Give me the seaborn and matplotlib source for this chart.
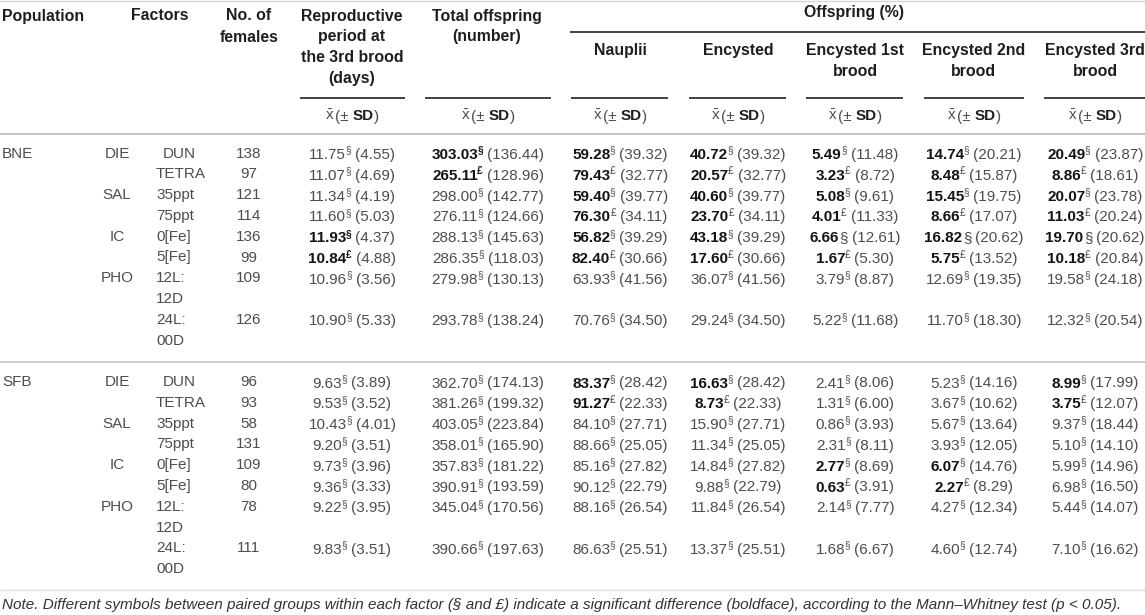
import matplotlib
matplotlib.use("Agg")
import matplotlib.pyplot as plt
import seaborn as sns

# ---------------- data ----------------
populations = ["BNE", "SFB"]
n_females = [138, 97, 121, 114, 136, 99, 109, 126,
             96, 93, 58, 131, 109, 80, 78, 111]
factor_names = ["DIE", "SAL", "IC", "PHO"]
level_lines = [["DUN"], ["TETRA"], ["35ppt"], ["75ppt"], ["0[Fe]"], ["5[Fe]"],
               ["12L:", "12D"], ["24L:", "00D"]]

repro_mean = [11.75, 11.07, 11.34, 11.60, 11.93, 10.84, 10.96, 10.90,
              9.63, 9.53, 10.43, 9.20, 9.73, 9.36, 9.22, 9.83]
repro_sd = [4.55, 4.69, 4.19, 5.03, 4.37, 4.88, 3.56, 5.33,
            3.89, 3.52, 4.01, 3.51, 3.96, 3.33, 3.95, 3.51]
repro_sig = "§§§§§£§§" + "§§§§§§§§"
repro_bold = "00001100" + "00000000"

total_mean = [303.03, 265.11, 298.00, 276.11, 288.13, 286.35, 279.98, 293.78,
              362.70, 381.26, 403.05, 358.01, 357.83, 390.91, 345.04, 390.66]
total_sd = [136.44, 128.96, 142.77, 124.66, 145.63, 118.03, 130.13, 138.24,
            174.13, 199.32, 223.84, 165.90, 181.22, 193.59, 170.56, 197.63]
total_sig = "§£§§§§§§" + "§§§§§§§§"
total_bold = "11000000" + "00000000"

naup_mean = [59.28, 79.43, 59.40, 76.30, 56.82, 82.40, 63.93, 70.76,
             83.37, 91.27, 84.10, 88.66, 85.16, 90.12, 88.16, 86.63]
naup_sd = [39.32, 32.77, 39.77, 34.11, 39.29, 30.66, 41.56, 34.50,
           28.42, 22.33, 27.71, 25.05, 27.82, 22.79, 26.54, 25.51]
naup_sig = "§£§£§£§§" + "§£§§§§§§"
naup_bold = "11111100" + "11000000"

enc_mean = [40.72, 20.57, 40.60, 23.70, 43.18, 17.60, 36.07, 29.24,
            16.63, 8.73, 15.90, 11.34, 14.84, 9.88, 11.84, 13.37]
enc_sd = [39.32, 32.77, 39.77, 34.11, 39.29, 30.66, 41.56, 34.50,
          28.42, 22.33, 27.71, 25.05, 27.82, 22.79, 26.54, 25.51]
enc_sig = "§£§£§£§§" + "§£§§§§§§"
enc_bold = "11111100" + "11000000"

enc1_mean = [5.49, 3.23, 5.08, 4.01, 6.66, 1.67, 3.79, 5.22,
             2.41, 1.31, 0.86, 2.31, 2.77, 0.63, 2.14, 1.68]
enc1_sd = [11.48, 8.72, 9.61, 11.33, 12.61, 5.30, 8.87, 11.68,
           8.06, 6.00, 3.93, 8.11, 8.69, 3.91, 7.77, 6.67]
enc1_sig = "§£§£§£§§" + "§§§§§£§§"
enc1_bold = "11111100" + "00001100"

enc2_mean = [14.74, 8.48, 15.45, 8.66, 16.82, 5.75, 12.69, 11.70,
             5.23, 3.67, 5.67, 3.93, 6.07, 2.27, 4.27, 4.60]
enc2_sd = [20.21, 15.87, 19.75, 17.07, 20.62, 13.52, 19.35, 18.30,
           14.16, 10.62, 13.64, 12.05, 14.76, 8.29, 12.34, 12.74]
enc2_sig = "§£§£§£§§" + "§§§§§£§§"
enc2_bold = "11111100" + "00001100"

enc3_mean = [20.49, 8.86, 20.07, 11.03, 19.70, 10.18, 19.58, 12.32,
             8.99, 3.75, 9.37, 5.10, 5.99, 6.98, 5.44, 7.10]
enc3_sd = [23.87, 18.61, 23.78, 20.24, 20.62, 20.84, 24.18, 20.54,
           17.99, 12.07, 18.44, 14.10, 14.96, 16.50, 14.07, 16.62]
enc3_sig = "§£§£§£§§" + "§£§§§§§§"
enc3_bold = "11111100" + "11000000"

note_text = ("Note. Different symbols between paired groups within each factor (§ and £) "
             "indicate a significant difference (boldface), according to the "
             "Mann\u2013Whitney test (p < 0.05).")

# ---------------- style ----------------
sns.set_theme(style="white")
plt.rcParams['font.family'] = ['Liberation Sans', 'DejaVu Sans']
plt.rcParams['mathtext.fontset'] = 'custom'
plt.rcParams['mathtext.rm'] = 'Liberation Sans'
plt.rcParams['mathtext.bf'] = 'Liberation Sans:bold'

FS = 11.0
HFS = 11.4
SUP = 7.3
C_TXT = "#4d4d4d"
C_BOLD = "#141414"
C_HEAD = "#1e1e1e"

W, H = 1145, 615
fig = plt.figure(figsize=(W / 100, H / 100), dpi=100)
ax = fig.add_axes([0, 0, 1, 1])
ax.set_xlim(0, W)
ax.set_ylim(H, 0)
ax.axis('off')
renderer = fig.canvas.get_renderer()


def run(xc, yc, pieces, ha='center'):
    """pieces: (text, weight, size, color, dy, gap_before)"""
    base = yc + 5.5
    objs = []
    total = 0
    for text, wt, sz, col, dy, gap in pieces:
        t = ax.text(0, base + dy, text, fontsize=sz, fontweight=wt, color=col,
                    va='baseline', ha='left')
        w = t.get_window_extent(renderer).width
        objs.append((t, w, gap))
        total += w + gap
    x = xc - total / 2 if ha == 'center' else xc
    for t, w, gap in objs:
        x += gap
        t.set_x(x)
        x += w


# ---------------- header ----------------
HL = [16, 37, 58, 79]
hkw = dict(fontsize=HFS, fontweight='bold', color=C_HEAD, va='center')
ax.text(2, HL[0], "Population", ha='left', **hkw)
ax.text(160, HL[0], "Factors", ha='center', **hkw)
ax.text(249, HL[0], "No. of", ha='center', **hkw)
ax.text(249, HL[1], "females", ha='center', **hkw)
for i, s in enumerate(["Reproductive", "period at", "the 3rd brood", "(days)"]):
    ax.text(352, HL[i], s, ha='center', **hkw)
for i, s in enumerate(["Total offspring", "(number)"]):
    ax.text(487, HL[i], s, ha='center', **hkw)
ax.text(854, 12.5, "Offspring (%)", ha='center', **hkw)

sub_heads = [["Nauplii"], ["Encysted"], ["Encysted 1st", "brood"],
             ["Encysted 2nd", "brood"], ["Encysted 3rd", "brood"]]
val_cols = [352, 488, 620, 738, 855, 974, 1095]
ul_spans = [(300, 405), (425, 551), (571, 668), (689, 786), (806, 903),
            (924, 1024), (1044, 1145)]
for j, lines in enumerate(sub_heads):
    for k, s in enumerate(lines):
        ax.text(val_cols[j + 2], 50 + 21 * k, s, ha='center', **hkw)

ax.hlines(1, 0, W, color="#d6d6d6", lw=1.0)
ax.hlines(32, 570, W, color="#333333", lw=1.3)
for x0, x1 in ul_spans:
    ax.hlines(98, x0, x1, color="#333333", lw=1.3)
ax.hlines(133.5, 0, W, color="#bdbdbd", lw=1.3)
ax.hlines(361.5, 0, W, color="#c8c8c8", lw=1.3)
ax.hlines(590, 0, W, color="#e0e0e0", lw=1.0)

for xc in val_cols:
    run(xc, 115, [("$\\mathrm{\\bar{x}}$", 'normal', FS, C_TXT, 0, 0),
                  ("(±", 'normal', FS, C_TXT, 0, 1),
                  ("SD", 'bold', FS, C_HEAD, 0, 3.5),
                  (")", 'normal', FS, C_TXT, 0, 0.5)])

# ---------------- body ----------------
measures = [
    (repro_mean, repro_sd, repro_sig, repro_bold, True),
    (total_mean, total_sd, total_sig, total_bold, True),
    (naup_mean, naup_sd, naup_sig, naup_bold, False),
    (enc_mean, enc_sd, enc_sig, enc_bold, False),
    (enc1_mean, enc1_sd, enc1_sig, enc1_bold, False),
    (enc2_mean, enc2_sd, enc2_sig, enc2_bold, False),
    (enc3_mean, enc3_sd, enc3_sig, enc3_bold, False),
]
inline_symbol = {(0, 4, 4), (0, 4, 5), (0, 4, 6)}  # (pop, level, column)

block_top = [153.5, 382]
LH = 20.8
line_of_level = [0, 1, 2, 3, 4, 5, 6, 8]
kw = dict(fontsize=FS, color=C_TXT, va='center')

for p, pop in enumerate(populations):
    y0 = block_top[p]
    ax.text(2, y0, pop, ha='left', **kw)
    for f, fname in enumerate(factor_names):
        ax.text(117, y0 + line_of_level[2 * f] * LH, fname, ha='center', **kw)
    for lv in range(8):
        yl = y0 + line_of_level[lv] * LH
        r = p * 8 + lv
        for k, s in enumerate(level_lines[lv]):
            if s == "DUN":
                ax.text(179, yl + k * LH, s, ha='center', **kw)
            else:
                ax.text(156, yl + k * LH, s, ha='left', **kw)
        ax.text(249, yl, str(n_females[r]), ha='center', **kw)
        for c, (mean, sd, sig, bold, bold_sup) in enumerate(measures):
            b = bold[r] == "1"
            main = ("%.2f" % mean[r], 'bold' if b else 'normal', FS,
                    C_BOLD if b else C_TXT, 0, 0)
            if (p, lv, c) in inline_symbol:
                sym = (sig[r], 'normal', FS, C_TXT, 0, 0.3)
            else:
                sw = 'bold' if (b and bold_sup) else 'normal'
                sym = (sig[r], sw, SUP, C_BOLD if (b and bold_sup) else C_TXT,
                       -5.5, -0.5)
            sdp = ("(%.2f)" % sd[r], 'normal', FS, C_TXT, 0, 4.0)
            run(val_cols[c], yl, [main, sym, sdp])

ax.text(2, 605, note_text, ha='left', va='center', fontsize=FS,
        style='italic', color="#333333")

fig.savefig("out.png", dpi=100)
